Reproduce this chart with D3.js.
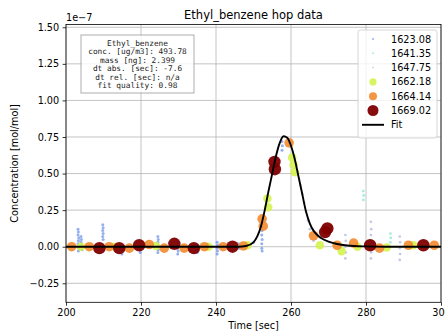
<!DOCTYPE html>
<html>
<head>
<meta charset="utf-8">
<script src="https://cdn.jsdelivr.net/npm/d3@7"></script>
<style>
  body { margin: 0; background: #fff; }
  svg { font-family: "DejaVu Sans", sans-serif; }
</style>
</head>
<body>
<svg id="chart" width="445" height="333"></svg>
<script>
// data, concentration in units of 1e-7 mol/mol
const xTicks = [200, 220, 240, 260, 280, 300];
const yTicks = [-0.25, 0, 0.25, 0.5, 0.75, 1.0, 1.25, 1.5];

const series1623 = [
  [203.2, 0.12], [203.3, 0.10], [203.2, 0.08], [203.4, 0.06], [203.3, 0.04], [203.2, 0.02], [203.4, -0.01], [203.3, -0.03],
  [204.0, 0.07], [204.1, 0.05], [204.0, 0.03], [204.2, 0.01], [204.3, -0.02],
  [209.8, 0.15], [209.9, 0.13], [209.8, 0.11], [209.9, 0.09], [209.8, 0.07], [209.9, 0.05],
  [214.9, -0.01], [215.0, -0.03], [214.9, -0.05],
  [219.8, 0.0], [219.9, -0.02], [219.8, -0.04],
  [224.5, 0.07], [224.6, 0.05], [224.5, 0.03], [224.6, 0.01], [224.6, -0.02], [224.5, -0.04],
  [229.8, -0.01], [229.9, -0.03], [229.8, -0.05],
  [235.0, 0.01], [235.1, -0.02], [235.0, -0.04],
  [240.3, 0.03], [240.4, 0.01], [240.3, -0.01], [240.4, -0.03], [240.3, -0.05],
  [246.0, 0.02], [246.1, -0.01], [250.0, 0.03],
  [252.2, 0.14], [252.3, 0.11], [252.2, 0.08], [252.3, 0.05], [252.2, 0.02], [252.2, -0.01], [252.3, -0.03],
  [257.6, 0.72], [257.7, 0.69], [257.6, 0.66]
];
const series1641 = [
  [279.3, 0.38], [279.4, 0.35], [279.3, 0.32],
  [286.5, 0.09], [286.6, 0.06], [286.5, 0.03]
];
const series1647 = [
  [262.5, 0.42], [263.0, 0.36], [263.5, 0.30], [264.0, 0.24], [264.5, 0.18], [265.0, 0.12], [265.5, 0.08], [266.0, 0.04],
  [274.5, 0.08], [274.6, 0.04], [274.5, 0.0], [274.6, -0.04], [274.5, -0.08],
  [281.3, 0.17], [281.4, 0.12], [281.3, 0.08], [281.4, 0.04], [281.3, 0.0], [281.4, -0.04], [281.3, -0.08],
  [289.0, 0.07], [289.1, 0.03], [289.0, -0.01], [289.1, -0.05], [289.0, -0.09]
];
const series1662 = [
  [204.0, 0.0], [213.0, 0.0], [224.0, 0.005], [238.0, 0.0], [248.4, 0.01],
  [253.7, 0.33], [253.9, 0.27], [260.3, 0.61], [260.7, 0.56], [261.0, 0.51],
  [267.7, 0.01], [273.5, -0.03], [277.7, 0.0], [285.5, -0.005], [292.6, 0.01]
];
const series1664 = [
  [201.5, 0.0], [206.2, 0.0], [211.5, 0.0], [216.9, -0.01], [222.2, 0.015], [226.2, -0.01],
  [231.5, -0.01], [236.9, 0.0], [241.9, 0.0], [247.3, 0.005],
  [252.3, 0.19], [252.6, 0.14], [259.5, 0.71], [266.0, 0.075], [272.3, 0.01],
  [276.7, 0.025], [283.6, -0.01], [291.3, 0.01], [298.2, 0.01]
];
const series1669 = [
  [208.9, -0.01], [214.2, -0.01], [219.5, 0.01], [228.9, 0.02], [234.1, -0.01], [244.4, 0.0],
  [255.6, 0.58], [255.7, 0.53], [269.1, 0.10], [269.7, 0.125], [281.1, 0.01], [295.3, 0.01]
];
const fitLine = [
  [200, 0], [246, 0], [248, 0.005], [250, 0.03], [251, 0.07], [252, 0.14], [253, 0.25],
  [254, 0.38], [255, 0.5], [256, 0.62], [257, 0.71], [258, 0.755], [259, 0.745], [260, 0.69],
  [261, 0.6], [262, 0.48], [263, 0.36], [264, 0.24], [265, 0.16], [266, 0.11], [267, 0.08],
  [268, 0.06], [270, 0.035], [272, 0.02], [275, 0.008], [280, 0.002], [285, 0], [300, 0]
];
const infoLines = [
  "Ethyl_benzene",
  "conc. [ug/m3]: 493.78",
  "mass [ng]: 2.399",
  "dt abs. [sec]: -7.6",
  "dt rel. [sec]: n/a",
  "fit quality: 0.98"
];

const layers = [
  {label: "1623.08", data: series1623, color: "#5b85e6", r: 1.5, op: 0.65, lr: 1.0},
  {label: "1641.35", data: series1641, color: "#7fe6cf", r: 1.4, op: 0.7, lr: 1.0},
  {label: "1647.75", data: series1647, color: "#98a2d8", r: 1.3, op: 0.6, lr: 0.8},
  {label: "1662.18", data: series1662, color: "#d2f245", r: 4.3, op: 0.85, lr: 3.6},
  {label: "1664.14", data: series1664, color: "#f28a2e", r: 4.8, op: 0.9, lr: 4.0},
  {label: "1669.02", data: series1669, color: "#800000", r: 6.2, op: 0.95, lr: 5.5}
];

const svg = d3.select("#chart");
const mLeft = 66, mRight = 441, mTop = 24.5, mBottom = 302.3;

const x = d3.scaleLinear().domain([200, 300]).range([mLeft, mRight]);
const y = d3.scaleLinear().domain([-0.38, 1.519]).range([mBottom, mTop]);

svg.append("defs").append("clipPath").attr("id", "clip")
  .append("rect").attr("x", mLeft).attr("y", mTop)
  .attr("width", mRight - mLeft).attr("height", mBottom - mTop);

// grid
const grid = svg.append("g").attr("stroke", "#b0b0b0").attr("stroke-width", 0.75);
grid.selectAll(".gx").data(xTicks).enter().append("line")
  .attr("x1", d => x(d)).attr("x2", d => x(d)).attr("y1", mTop).attr("y2", mBottom);
grid.selectAll(".gy").data(yTicks).enter().append("line")
  .attr("y1", d => y(d)).attr("y2", d => y(d)).attr("x1", mLeft).attr("x2", mRight);

// markers
const plot = svg.append("g").attr("clip-path", "url(#clip)");
layers.forEach(l => {
  plot.append("g").selectAll("circle").data(l.data).enter().append("circle")
    .attr("cx", d => x(d[0])).attr("cy", d => y(d[1]))
    .attr("r", l.r).attr("fill", l.color).attr("fill-opacity", l.op);
});

// fit
plot.append("path").datum(fitLine)
  .attr("fill", "none").attr("stroke", "#000").attr("stroke-width", 1.9)
  .attr("d", d3.line().x(d => x(d[0])).y(d => y(d[1])).curve(d3.curveMonotoneX));

// axes
const fmtY = d => d3.format(".2f")(d).replace("-", "\u2212");
const xAxis = svg.append("g").attr("transform", `translate(0,${mBottom})`)
  .call(d3.axisBottom(x).tickValues(xTicks).tickSize(3.4).tickPadding(3.4).tickFormat(d3.format("d")));
const yAxis = svg.append("g").attr("transform", `translate(${mLeft},0)`)
  .call(d3.axisLeft(y).tickValues(yTicks).tickSize(3.4).tickPadding(3.4).tickFormat(fmtY));
[xAxis, yAxis].forEach(a => {
  a.select(".domain").remove();
  a.selectAll("text").attr("font-size", 9.7).attr("fill", "#000").attr("font-family", "DejaVu Sans");
  a.selectAll("line").attr("stroke", "#000").attr("stroke-width", 0.8);
});

// frame
svg.append("rect").attr("x", mLeft).attr("y", mTop)
  .attr("width", mRight - mLeft).attr("height", mBottom - mTop)
  .attr("fill", "none").attr("stroke", "#000").attr("stroke-width", 0.8);

// titles
svg.append("text").attr("x", (mLeft + mRight) / 2).attr("y", 19)
  .attr("text-anchor", "middle").attr("font-size", 11.5).text("Ethyl_benzene hop data");
svg.append("text").attr("x", mLeft).attr("y", 21)
  .attr("font-size", 9.7).text("1e\u22127");
svg.append("text").attr("x", (mLeft + mRight) / 2).attr("y", 329)
  .attr("text-anchor", "middle").attr("font-size", 9.7).text("Time [sec]");
svg.append("text").attr("transform", `translate(18,${(mTop + mBottom) / 2}) rotate(-90)`)
  .attr("text-anchor", "middle").attr("font-size", 9.7).text("Concentration [mol/mol]");

// info box
const info = svg.append("g");
info.append("rect").attr("x", 81).attr("y", 35).attr("width", 113).attr("height", 58)
  .attr("fill", "#fff").attr("fill-opacity", 0.8).attr("stroke", "#999").attr("stroke-width", 0.8);
info.selectAll("text").data(infoLines).enter().append("text")
  .attr("x", 137.5).attr("y", (d, i) => 46 + i * 8.4)
  .attr("text-anchor", "middle").attr("font-family", "DejaVu Sans Mono")
  .attr("font-size", 7.8).attr("fill", "#222").text(d => d);

// legend
const lg = svg.append("g");
lg.append("rect").attr("x", 358).attr("y", 30).attr("width", 79).attr("height", 108)
  .attr("rx", 2.5).attr("fill", "#fff").attr("fill-opacity", 0.8)
  .attr("stroke", "#ccc").attr("stroke-width", 0.8);
layers.forEach((l, i) => {
  const cy = 39 + i * 14.3;
  lg.append("circle").attr("cx", 373).attr("cy", cy).attr("r", l.lr)
    .attr("fill", l.color).attr("fill-opacity", l.op);
  lg.append("text").attr("x", 391).attr("y", cy + 3.5)
    .attr("font-size", 9.7).text(l.label);
});
const fy = 39 + 6 * 14.3;
lg.append("line").attr("x1", 362).attr("x2", 384).attr("y1", fy).attr("y2", fy)
  .attr("stroke", "#000").attr("stroke-width", 1.9);
lg.append("text").attr("x", 391).attr("y", fy + 3.5).attr("font-size", 9.7).text("Fit");
</script>
</body>
</html>
